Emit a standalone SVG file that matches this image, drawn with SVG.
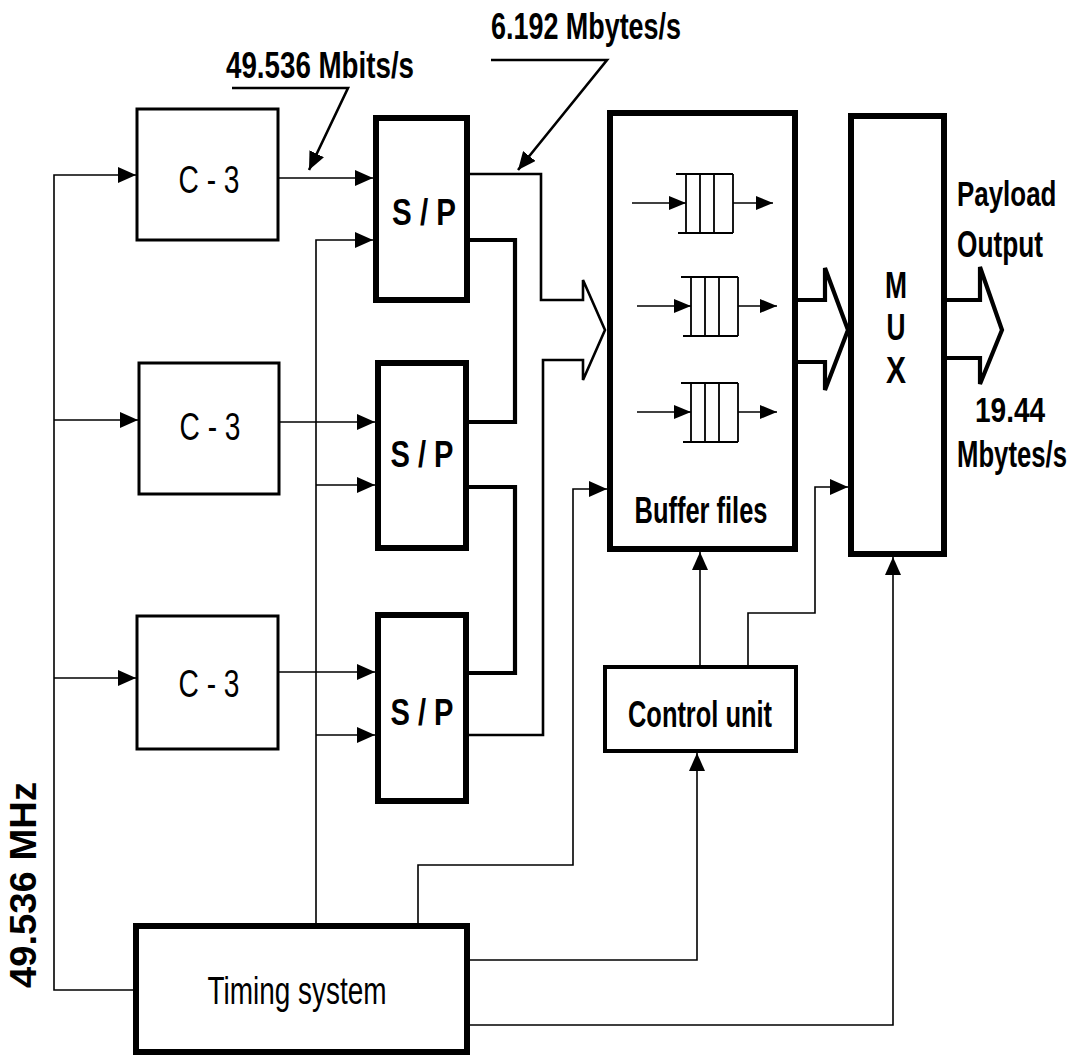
<svg xmlns="http://www.w3.org/2000/svg" width="1079" height="1057" viewBox="0 0 1079 1057">
<style>
.box{fill:#fff;stroke:#000;stroke-width:3}
.thick{fill:#fff;stroke:#000;stroke-width:6}
.mid{fill:#fff;stroke:#000;stroke-width:4}
.ln{fill:none;stroke:#000;stroke-width:1.6}
.ln2{fill:none;stroke:#000;stroke-width:2.6}
.ln4{fill:none;stroke:#000;stroke-width:4.2}
.q{fill:none;stroke:#000;stroke-width:1.8}
text{font-family:"Liberation Sans",Arial,Helvetica,sans-serif;fill:#000}
.b{font-weight:bold;font-size:36px}
.r{font-weight:normal;font-size:38px}
.m{font-weight:bold;font-size:36px}
</style>
<defs>
<marker id="ah" markerWidth="18" markerHeight="16" refX="18" refY="8" orient="auto" markerUnits="userSpaceOnUse"><path d="M0,0 L18,8 L0,16 z" fill="#000"/></marker>
<marker id="aq" markerWidth="17" markerHeight="14" refX="17" refY="7" orient="auto" markerUnits="userSpaceOnUse"><path d="M0,0 L17,7 L0,14 z" fill="#000"/></marker>
<g id="queue">
<path class="q" d="M-10,-29 H47 M-8,30 H47 M0,-29 V30 M14,-29 V30 M28,-29 V30 M47,-29 V30"/>
</g>
</defs>
<rect x="0" y="0" width="1079" height="1057" fill="#fff"/>

<g id="connectors">
<path class="ln" d="M136,990 H54 V175 H136" marker-end="url(#ah)"/>
<path class="ln" d="M54,420 H138" marker-end="url(#ah)"/>
<path class="ln" d="M54,678 H136" marker-end="url(#ah)"/>
<path class="ln" d="M278,178 H373" marker-end="url(#ah)"/>
<path class="ln" d="M279,422 H375" marker-end="url(#ah)"/>
<path class="ln" d="M278,672 H375" marker-end="url(#ah)"/>
<path class="ln" d="M316,923 V240 H373" marker-end="url(#ah)"/>
<path class="ln" d="M316,485 H375" marker-end="url(#ah)"/>
<path class="ln" d="M316,735 H375" marker-end="url(#ah)"/>
<path class="ln" d="M418,923 V865 H573 V489 H607" marker-end="url(#ah)"/>
<path class="ln" d="M470,960 H697 V753" marker-end="url(#ah)"/>
<path class="ln" d="M470,1025 H893 V557" marker-end="url(#ah)"/>
<path class="ln" d="M700,665 V552" marker-end="url(#ah)"/>
<path class="ln" d="M748,665 V613 H815 V487 H848" marker-end="url(#ah)"/>
<path class="ln2" d="M470,174 H541 V300 H583 V280 L605,330 L583,380 V360 H543 V735 H469"/>
<path class="ln4" d="M470,240 H515 V422 H469"/>
<path class="ln4" d="M469,487 H515 V673 H469"/>
<path class="ln4" d="M797,300 H825 V268 L848,330 L825,390 V362 H797"/>
<path class="ln4" d="M947,300 H980 V267 L1002,330 L980,384 V358 H947"/>
<path class="ln2" d="M232,88 H348 L309,170" marker-end="url(#ah)"/>
<path class="ln2" d="M491,60 H607 L518,170" marker-end="url(#ah)"/>
</g>

<g id="c3-top"><rect class="box" x="137" y="109" width="141" height="131"/><text class="r" x="209" y="193" text-anchor="middle" textLength="61" lengthAdjust="spacingAndGlyphs">C - 3</text></g>
<g id="c3-mid"><rect class="box" x="139" y="363" width="140" height="131"/><text class="r" x="210" y="440" text-anchor="middle" textLength="61" lengthAdjust="spacingAndGlyphs">C - 3</text></g>
<g id="c3-bot"><rect class="box" x="137" y="616" width="141" height="133"/><text class="r" x="209" y="697" text-anchor="middle" textLength="61" lengthAdjust="spacingAndGlyphs">C - 3</text></g>

<g id="sp-top"><rect class="thick" x="376" y="118" width="91" height="182"/><text class="m" x="424" y="225" text-anchor="middle" textLength="64" lengthAdjust="spacingAndGlyphs">S / P</text></g>
<g id="sp-mid"><rect class="thick" x="378" y="363" width="88" height="185"/><text class="m" x="422" y="467" text-anchor="middle" textLength="63" lengthAdjust="spacingAndGlyphs">S / P</text></g>
<g id="sp-bot"><rect class="thick" x="378" y="615" width="88" height="186"/><text class="m" x="422" y="725" text-anchor="middle" textLength="63" lengthAdjust="spacingAndGlyphs">S / P</text></g>

<g id="buffer">
<rect class="thick" x="610" y="113" width="185" height="436"/>
<use href="#queue" x="686" y="203"/>
<use href="#queue" x="691" y="306"/>
<use href="#queue" x="691" y="412"/>
<path class="ln" d="M632,203 H686" marker-end="url(#aq)"/>
<path class="ln" d="M733,203 H773" marker-end="url(#aq)"/>
<path class="ln" d="M637,306 H691" marker-end="url(#aq)"/>
<path class="ln" d="M738,306 H777" marker-end="url(#aq)"/>
<path class="ln" d="M637,412 H691" marker-end="url(#aq)"/>
<path class="ln" d="M738,412 H777" marker-end="url(#aq)"/>
<text class="b" x="701" y="523" text-anchor="middle" textLength="133" lengthAdjust="spacingAndGlyphs">Buffer files</text>
</g>

<g id="mux">
<rect class="thick" x="851" y="116" width="93" height="438"/>
<text class="m" x="896" y="298" text-anchor="middle" textLength="22" lengthAdjust="spacingAndGlyphs">M</text>
<text class="m" x="896" y="340" text-anchor="middle" textLength="19" lengthAdjust="spacingAndGlyphs">U</text>
<text class="m" x="896" y="383" text-anchor="middle" textLength="20" lengthAdjust="spacingAndGlyphs">X</text>
</g>

<g id="control-unit"><rect class="mid" x="605" y="667" width="191" height="84"/><text class="b" x="700" y="727" text-anchor="middle" textLength="144" lengthAdjust="spacingAndGlyphs">Control unit</text></g>

<g id="timing-system"><rect class="thick" x="136" y="926" width="331" height="126"/><text class="r" x="297" y="1004" text-anchor="middle" textLength="179" lengthAdjust="spacingAndGlyphs">Timing system</text></g>

<g id="labels">
<text class="b" x="226" y="78" textLength="188" lengthAdjust="spacingAndGlyphs">49.536 Mbits/s</text>
<text class="b" x="491" y="39" textLength="190" lengthAdjust="spacingAndGlyphs">6.192 Mbytes/s</text>
<text class="b" transform="translate(957,206) scale(0.72,1)">Payload</text>
<text class="b" transform="translate(957,257) scale(0.73,1)">Output</text>
<text class="b" transform="translate(975,422) scale(0.78,1)">19.44</text>
<text class="b" transform="translate(957,467) scale(0.714,1)">Mbytes/s</text>
<text class="b" transform="translate(36,885) rotate(-90)" text-anchor="middle" font-size="28" textLength="206" lengthAdjust="spacingAndGlyphs">49.536 MHz</text>
</g>
</svg>
